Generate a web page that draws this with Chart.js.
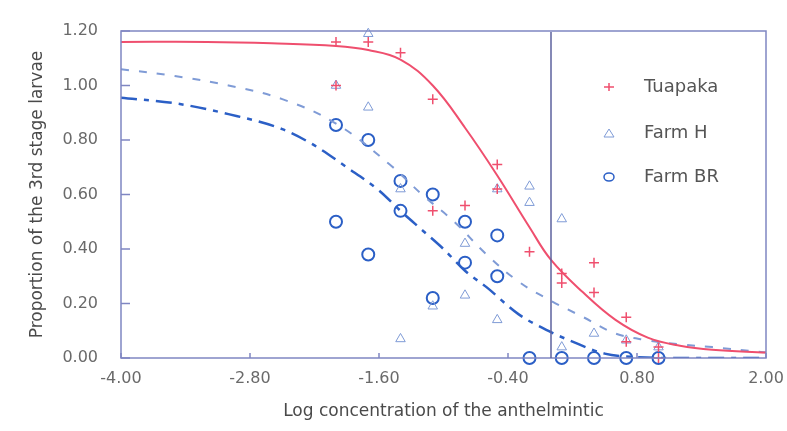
<!DOCTYPE html>
<html>
<head>
<meta charset="utf-8">
<script src="https://cdn.jsdelivr.net/npm/chart.js@4"></script>
<style>
  html, body { margin: 0; padding: 0; background: #fff; }
  #wrap { width: 787px; height: 431px; }
</style>
</head>
<body>
<div id="wrap"><canvas id="myChart" width="787" height="431"></canvas></div>
<script>
// observed points (log concentration, proportion)
const tuapakaX = [-2.0, -1.7, -1.4, -1.1, -2.0, -1.1, -0.8, -0.5, -0.5, -0.2, 0.1, 0.1, 0.4, 0.4, 0.7, 0.7, 1.0, 1.0];
const tuapakaY = [1.16, 1.16, 1.12, 0.95, 1.00, 0.54, 0.56, 0.71, 0.62, 0.39, 0.31, 0.275, 0.35, 0.24, 0.15, 0.06, 0.04, 0.0];

const farmHX = [-2.0, -1.7, -1.7, -1.4, -1.4, -1.1, -0.8, -0.8, -0.5, -0.5, -0.2, -0.2, 0.1, 0.1, 0.4, 0.7, 1.0];
const farmHY = [1.00, 1.19, 0.92, 0.62, 0.07, 0.19, 0.42, 0.23, 0.62, 0.14, 0.63, 0.57, 0.51, 0.04, 0.09, 0.065, 0.04];

const farmBRX = [-2.0, -2.0, -1.7, -1.7, -1.4, -1.4, -1.1, -1.1, -0.8, -0.8, -0.5, -0.5, -0.2, 0.1, 0.4, 0.7, 1.0];
const farmBRY = [0.855, 0.50, 0.80, 0.38, 0.65, 0.54, 0.60, 0.22, 0.50, 0.35, 0.45, 0.30, 0.0, 0.0, 0.0, 0.0, 0.0];

// fitted curves
const tuapakaFitX = [-4.0, -3.2, -2.6, -2.0, -1.7, -1.4, -1.1, -0.8, -0.5, -0.2, 0.0, 0.3, 0.6, 0.9, 1.2, 1.5, 2.0];
const tuapakaFitY = [1.16, 1.16, 1.155, 1.145, 1.13, 1.095, 1.00, 0.845, 0.67, 0.48, 0.36, 0.24, 0.14, 0.075, 0.045, 0.03, 0.02];

const farmHFitX = [-4.0, -3.5, -3.0, -2.5, -2.0, -1.5, -1.2, -0.9, -0.6, -0.3, 0.0, 0.3, 0.6, 0.9, 1.2, 1.5, 2.0];
const farmHFitY = [1.06, 1.035, 1.0, 0.95, 0.86, 0.71, 0.60, 0.50, 0.38, 0.28, 0.21, 0.15, 0.09, 0.065, 0.05, 0.04, 0.02];

const farmBRFitX = [-4.0, -3.5, -3.0, -2.5, -2.2, -1.9, -1.6, -1.4, -1.2, -1.0, -0.8, -0.6, -0.3, 0.0, 0.2, 0.5, 0.8, 1.2, 2.0];
const farmBRFitY = [0.955, 0.935, 0.895, 0.84, 0.78, 0.70, 0.615, 0.54, 0.47, 0.40, 0.32, 0.26, 0.16, 0.095, 0.06, 0.016, 0.003, 0.0, 0.0];

const xTicks = [-4.0, -2.8, -1.6, -0.4, 0.8, 2.0];
const yTicks = [0.0, 0.2, 0.4, 0.6, 0.8, 1.0, 1.2];

const seriesNames = ['Tuapaka', 'Farm H', 'Farm BR'];

const RED = '#ef4f6e';
const LIGHTBLUE = '#7f9bd6';
const BLUE = '#2b5fc6';
const FRAME = '#7f86c2';
const FONT = "'DejaVu Sans', sans-serif";

function toPoints(xs, ys) {
    return xs.map((x, i) => ({ x: x, y: ys[i] }));
}

// frame, inward ticks, divider line and the boxed legend
const framePlugin = {
    id: 'frame',
    afterDatasetsDraw(chart) {
        const { ctx, chartArea: a, scales } = chart;
        ctx.save();
        ctx.strokeStyle = FRAME;
        ctx.lineWidth = 1.5;
        ctx.strokeRect(a.left, a.top, a.right - a.left, a.bottom - a.top);

        // inward tick marks
        yTicks.forEach(v => {
            const py = scales.y.getPixelForValue(v);
            ctx.beginPath();
            ctx.moveTo(a.left, py);
            ctx.lineTo(a.left + 9, py);
            ctx.stroke();
        });
        xTicks.forEach(v => {
            const px = scales.x.getPixelForValue(v);
            ctx.beginPath();
            ctx.moveTo(px, a.bottom);
            ctx.lineTo(px, a.bottom - 5);
            ctx.stroke();
        });

        // legend box divider at x = 0
        const xd = scales.x.getPixelForValue(0);
        ctx.strokeStyle = '#5c629e';
        ctx.beginPath();
        ctx.moveTo(xd, a.top + 1);
        ctx.lineTo(xd, a.bottom);
        ctx.stroke();

        // legend entries
        const mx = xd + 58;
        const tx = xd + 93;
        const rows = [a.top + 56, a.top + 102, a.top + 146];
        ctx.font = '18px ' + FONT;
        ctx.fillStyle = '#555';
        ctx.textBaseline = 'middle';
        rows.forEach((ry, i) => ctx.fillText(seriesNames[i], tx, ry));

        // +
        ctx.strokeStyle = RED;
        ctx.lineWidth = 1.5;
        ctx.beginPath();
        ctx.moveTo(mx - 5, rows[0]); ctx.lineTo(mx + 5, rows[0]);
        ctx.moveTo(mx, rows[0] - 4); ctx.lineTo(mx, rows[0] + 4);
        ctx.stroke();
        // triangle
        ctx.strokeStyle = LIGHTBLUE;
        ctx.lineWidth = 1;
        ctx.beginPath();
        ctx.moveTo(mx, rows[1] - 4);
        ctx.lineTo(mx + 5, rows[1] + 4);
        ctx.lineTo(mx - 5, rows[1] + 4);
        ctx.closePath();
        ctx.stroke();
        // circle
        ctx.strokeStyle = BLUE;
        ctx.lineWidth = 1.5;
        ctx.beginPath();
        ctx.ellipse(mx, rows[2], 5, 4, 0, 0, Math.PI * 2);
        ctx.stroke();
        ctx.restore();
    }
};

function mainEvent() {
    const ctx = document.querySelector('#myChart');

    new Chart(ctx, {
        type: 'scatter',
        data: {
            datasets: [
                {
                    label: 'Tuapaka fit',
                    data: toPoints(tuapakaFitX, tuapakaFitY),
                    showLine: true,
                    borderColor: RED,
                    borderWidth: 2,
                    pointRadius: 0,
                    tension: 0.4
                },
                {
                    label: 'Farm H fit',
                    data: toPoints(farmHFitX, farmHFitY),
                    showLine: true,
                    borderColor: LIGHTBLUE,
                    borderWidth: 2,
                    borderDash: [8, 10],
                    pointRadius: 0,
                    tension: 0.4
                },
                {
                    label: 'Farm BR fit',
                    data: toPoints(farmBRFitX, farmBRFitY),
                    showLine: true,
                    borderColor: BLUE,
                    borderWidth: 2.5,
                    borderDash: [16, 7, 5, 7],
                    pointRadius: 0,
                    cubicInterpolationMode: 'monotone'
                },
                {
                    label: seriesNames[0],
                    data: toPoints(tuapakaX, tuapakaY),
                    pointStyle: 'cross',
                    pointRadius: 5,
                    pointBorderWidth: 1.5,
                    borderColor: RED,
                    backgroundColor: RED,
                    clip: false
                },
                {
                    label: seriesNames[1],
                    data: toPoints(farmHX, farmHY),
                    pointStyle: 'triangle',
                    pointRadius: 5.5,
                    pointBorderWidth: 1,
                    borderColor: LIGHTBLUE,
                    backgroundColor: 'rgba(255,255,255,0)',
                    clip: false
                },
                {
                    label: seriesNames[2],
                    data: toPoints(farmBRX, farmBRY),
                    pointStyle: 'circle',
                    pointRadius: 6,
                    pointBorderWidth: 2,
                    borderColor: BLUE,
                    backgroundColor: 'rgba(255,255,255,0)',
                    clip: false
                }
            ]
        },
        options: {
            responsive: false,
            animation: false,
            layout: { padding: { left: 0, right: 21, top: 31, bottom: 0 } },
            plugins: {
                legend: { display: false },
                tooltip: { enabled: false }
            },
            scales: {
                x: {
                    type: 'linear',
                    min: -4,
                    max: 2,
                    afterBuildTicks: axis => { axis.ticks = xTicks.map(v => ({ value: v })); },
                    afterFit: axis => {
                        axis.height = 73;
                        axis.paddingLeft = 0;
                        axis.paddingRight = 0;
                    },
                    grid: { display: false, drawTicks: false },
                    border: { display: false },
                    ticks: {
                        padding: 11,
                        color: '#6a6a6a',
                        font: { family: FONT, size: 16 },
                        maxRotation: 0,
                        callback: v => v.toFixed(2)
                    },
                    title: {
                        display: true,
                        text: 'Log concentration of the anthelmintic',
                        color: '#4a4a4a',
                        font: { family: FONT, size: 17 },
                        padding: { top: 0, bottom: 9 }
                    }
                },
                y: {
                    type: 'linear',
                    min: 0,
                    max: 1.2,
                    afterBuildTicks: axis => { axis.ticks = yTicks.map(v => ({ value: v })); },
                    afterFit: axis => {
                        axis.width = 121;
                        axis.paddingTop = 0;
                        axis.paddingBottom = 0;
                    },
                    grid: { display: false, drawTicks: false },
                    border: { display: false },
                    ticks: {
                        padding: 23,
                        color: '#6a6a6a',
                        font: { family: FONT, size: 16 },
                        callback: v => v.toFixed(2)
                    },
                    title: {
                        display: true,
                        text: 'Proportion of the 3rd stage larvae',
                        color: '#4a4a4a',
                        font: { family: FONT, size: 17 },
                        padding: { top: 27, bottom: 0 }
                    }
                }
            }
        },
        plugins: [framePlugin]
    });
}

document.addEventListener("DOMContentLoaded", () => mainEvent());
</script>
</body>
</html>
